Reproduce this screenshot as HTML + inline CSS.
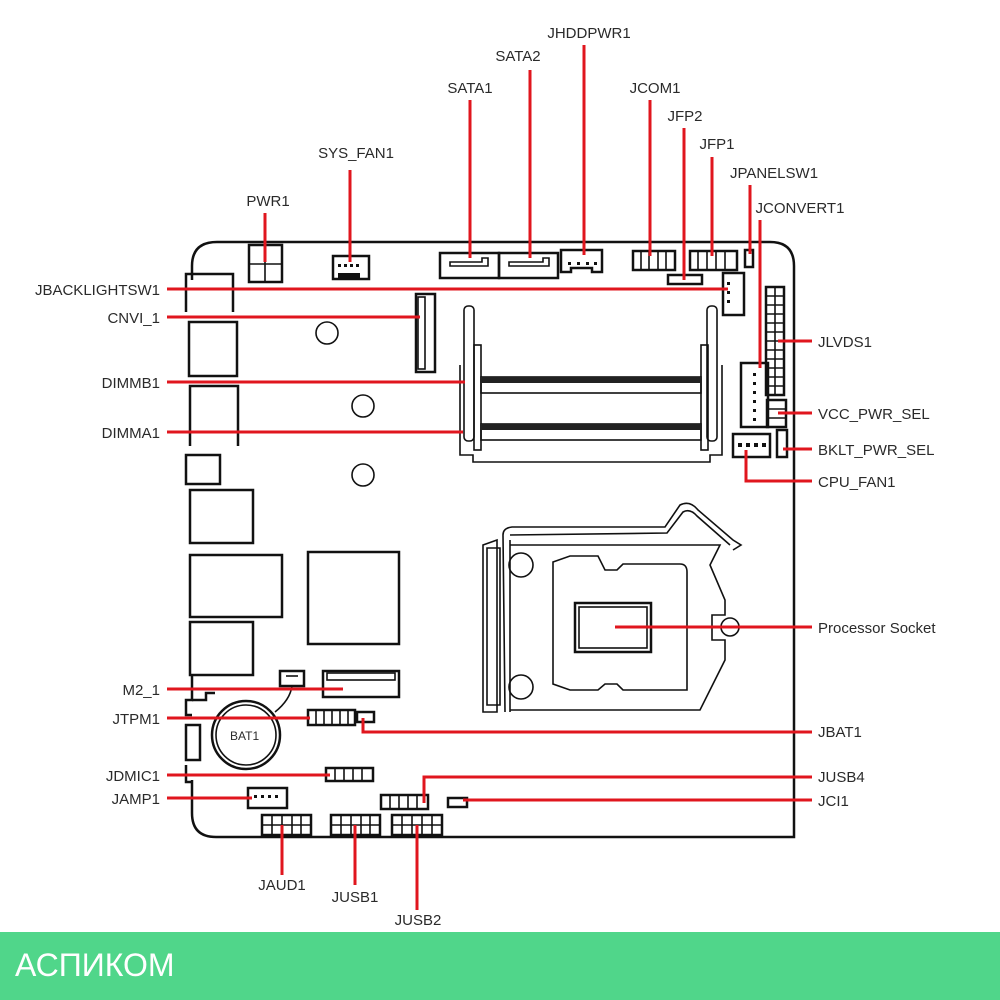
<!DOCTYPE html>
<html><head><meta charset="utf-8"><style>
html,body{margin:0;padding:0;background:#fff;width:1000px;height:1000px;overflow:hidden}
svg{display:block}
text{font-family:"Liberation Sans",sans-serif;font-size:15px;fill:#2a2a2a}
.b{fill:none;stroke:#111;stroke-width:2.5}
.t{fill:none;stroke:#111;stroke-width:1.6}
.r{fill:none;stroke:#e0161e;stroke-width:3}
.p{fill:#111}
</style></head><body>
<svg width="1000" height="1000" viewBox="0 0 1000 1000">
<path class="b" d="M192,280 L192,266 Q192,242 217,242 L770,242 Q794,242 794,266 L794,837 L216,837 Q192,837 192,813 L192,780"/>
<path class="b" d="M186,312 L186,274 L233,274 L233,312"/>
<rect class="b" x="189" y="322" width="48" height="54"/>
<path class="b" d="M190,446 L190,386 L238,386 L238,446"/>
<rect class="b" x="186" y="455" width="34" height="29"/>
<rect class="b" x="190" y="490" width="63" height="53"/>
<rect class="b" x="190" y="555" width="92" height="62"/>
<rect class="b" x="190" y="622" width="63" height="53"/>
<path class="b" d="M192,675 L192,700 L186,700 L186,715 L192,715"/>
<path class="b" d="M192,700 L206,700 L206,693 L215,693"/>
<path class="b" d="M186,725 L186,760 L200,760 L200,725 Z"/>
<path class="b" d="M186,765 L186,782 L192,782"/>
<rect class="b" x="249" y="245" width="33" height="37"/>
<path class="t" d="M265,245 V282 M249,264 H282"/>
<rect class="b" x="333" y="256" width="36" height="23"/>
<rect class="p" x="338" y="273" width="22" height="5"/>
<rect class="p" x="338" y="264" width="3" height="3"/><rect class="p" x="344" y="264" width="3" height="3"/><rect class="p" x="350" y="264" width="3" height="3"/><rect class="p" x="356" y="264" width="3" height="3"/>
<rect class="b" x="440" y="253" width="59" height="25"/>
<path class="t" d="M450,266 H488 V258 H482 V262 H450 Z"/>
<rect class="b" x="499" y="253" width="59" height="25"/>
<path class="t" d="M509,266 H549 V258 H543 V262 H509 Z"/>
<path class="b" d="M561,250 H602 V272 H592 V268 H571 V272 H561 Z"/>
<rect class="p" x="568" y="262" width="3" height="3"/><rect class="p" x="577" y="262" width="3" height="3"/><rect class="p" x="586" y="262" width="3" height="3"/><rect class="p" x="594" y="262" width="3" height="3"/>
<rect class="b" x="633" y="251" width="42" height="19"/>
<path class="t" d="M641,252 V269 M649,252 V269 M658,252 V269 M666,252 V269"/>
<rect class="b" x="690" y="251" width="47" height="19"/>
<path class="t" d="M698,252 V269 M707,252 V269 M716,252 V269 M725,252 V269"/>
<rect class="b" x="745" y="250" width="8" height="17"/>
<rect class="b" x="668" y="275" width="34" height="9"/>
<rect class="b" x="723" y="273" width="21" height="42"/>
<rect class="p" x="727" y="282" width="3" height="3"/><rect class="p" x="727" y="291" width="3" height="3"/><rect class="p" x="727" y="300" width="3" height="3"/>
<rect class="b" x="416" y="294" width="19" height="78"/>
<rect class="t" x="418" y="297" width="7" height="72"/>
<circle class="t" cx="327" cy="333" r="11"/>
<circle class="t" cx="363" cy="406" r="11"/>
<circle class="t" cx="363" cy="475" r="11"/>
<path class="t" d="M460,365 V455 H473 V462 H710 V455 H722 V365"/>
<rect class="t" x="464" y="306" width="10" height="135" rx="4"/>
<rect class="t" x="474" y="345" width="7" height="105"/>
<rect class="t" x="707" y="306" width="10" height="135" rx="4"/>
<rect class="t" x="701" y="345" width="7" height="105"/>
<rect class="t" x="481" y="377" width="220" height="16"/>
<rect x="481" y="377" width="220" height="6" fill="#222"/>
<rect class="t" x="481" y="424" width="220" height="16"/>
<rect x="481" y="424" width="220" height="6" fill="#222"/>
<rect class="b" x="766" y="287" width="18" height="108"/>
<path class="t" d="M767,296 H783 M767,305 H783 M767,314 H783 M767,323 H783 M767,332 H783 M767,341 H783 M767,350 H783 M767,359 H783 M767,368 H783 M767,377 H783 M767,386 H783 M775,288 V394"/>
<rect class="b" x="741" y="363" width="27" height="64"/>
<rect class="p" x="753" y="373" width="3" height="3"/><rect class="p" x="753" y="382" width="3" height="3"/><rect class="p" x="753" y="391" width="3" height="3"/><rect class="p" x="753" y="400" width="3" height="3"/><rect class="p" x="753" y="409" width="3" height="3"/><rect class="p" x="753" y="418" width="3" height="3"/>
<rect class="b" x="767" y="400" width="19" height="27"/>
<path class="t" d="M768,409 H785 M768,418 H785"/>
<rect class="b" x="777" y="430" width="10" height="27"/>
<rect class="b" x="733" y="434" width="37" height="23"/>
<rect class="p" x="738" y="443" width="4" height="4"/><rect class="p" x="746" y="443" width="4" height="4"/><rect class="p" x="754" y="443" width="4" height="4"/><rect class="p" x="762" y="443" width="4" height="4"/>
<rect class="b" x="308" y="552" width="91" height="92"/>
<path class="t" d="M483,545 L497,540 L497,712 L483,712 Z"/>
<path class="t" d="M487,548 H500 V705 H487 Z"/>
<path class="t" d="M503,535 L505,712 M510,540 V712"/>
<path class="t" d="M503,535 Q503,528 512,527 L665,527 L680,505 Q690,500 698,510 L733,540 L741,545 L733,550"/>
<path class="t" d="M510,535 L667,533 L683,512 Q690,508 697,516 L730,545"/>
<circle class="t" cx="521" cy="565" r="12"/>
<circle class="t" cx="521" cy="687" r="12"/>
<path class="t" d="M510,545 H720 L710,565 L725,600 V615 H712 V640 H725 V660 L700,710 H510"/>
<circle class="t" cx="730" cy="627" r="9"/>
<path class="t" d="M553,562 L570,556 L598,556 L605,570 L617,570 L623,564 L680,564 Q687,564 687,572 L687,690 L623,690 L617,684 L605,684 L598,690 L570,690 L553,684 Z"/>
<rect class="b" x="575" y="603" width="76" height="49"/>
<rect class="t" x="579" y="607" width="68" height="41"/>
<rect class="b" x="280" y="671" width="24" height="15"/>
<path class="t" d="M286,676 h12" />
<path class="t" d="M292,686 Q290,700 275,712"/>
<rect class="b" x="323" y="671" width="76" height="26"/>
<rect class="t" x="327" y="673" width="68" height="7"/>
<circle class="b" cx="246" cy="735" r="34"/>
<circle class="t" cx="246" cy="735" r="30"/>
<text x="230" y="740" style="font-size:12px">BAT1</text>
<rect class="b" x="308" y="710" width="47" height="15"/>
<path class="t" d="M316,711 V724 M324,711 V724 M332,711 V724 M340,711 V724 M348,711 V724"/>
<rect class="b" x="357" y="712" width="17" height="10"/>
<rect class="b" x="326" y="768" width="47" height="13"/>
<path class="t" d="M335,769 V780 M344,769 V780 M353,769 V780 M362,769 V780"/>
<rect class="b" x="248" y="788" width="39" height="20"/>
<rect class="p" x="254" y="795" width="3" height="3"/><rect class="p" x="261" y="795" width="3" height="3"/><rect class="p" x="268" y="795" width="3" height="3"/><rect class="p" x="275" y="795" width="3" height="3"/>
<rect class="b" x="381" y="795" width="47" height="14"/>
<path class="t" d="M390,796 V808 M399,796 V808 M408,796 V808 M417,796 V808"/>
<rect class="b" x="448" y="798" width="19" height="9"/>
<rect class="b" x="262" y="815" width="49" height="20"/>
<path class="t" d="M272,816 V834 M282,816 V834 M292,816 V834 M301,816 V834 M263,825 H310"/>
<rect class="b" x="331" y="815" width="49" height="20"/>
<path class="t" d="M341,816 V834 M351,816 V834 M361,816 V834 M370,816 V834 M332,825 H379"/>
<rect class="b" x="392" y="815" width="50" height="20"/>
<path class="t" d="M402,816 V834 M412,816 V834 M422,816 V834 M432,816 V834 M393,825 H441"/>
<path class="r" d="M265,213 V262 M350,170 V262 M470,100 V258 M530,70 V258 M584,45 V255 M650,100 V256 M684,128 V280 M712,157 V256 M750,185 V254 M760,220 V368"/>
<path class="r" d="M167,289 H728 M167,317 H420 M167,382 H465 M167,432 H463"/>
<path class="r" d="M778,341 H812 M778,413 H812 M783,449 H812 M746,450 V481 H812 M615,627 H812"/>
<path class="r" d="M167,689 H343 M167,718 H310 M363,718 V732 H812 M167,775 H330 M167,798 H252 M424,803 V777 H812 M463,800 H812"/>
<path class="r" d="M282,825 V875 M355,825 V885 M417,825 V910"/>
<g text-anchor="middle">
<text x="268" y="206">PWR1</text>
<text x="356" y="158">SYS_FAN1</text>
<text x="470" y="93">SATA1</text>
<text x="518" y="61">SATA2</text>
<text x="589" y="38">JHDDPWR1</text>
<text x="655" y="93">JCOM1</text>
<text x="685" y="121">JFP2</text>
<text x="717" y="149">JFP1</text>
<text x="774" y="178">JPANELSW1</text>
<text x="800" y="213">JCONVERT1</text>
<text x="282" y="890">JAUD1</text>
<text x="355" y="902">JUSB1</text>
<text x="418" y="925">JUSB2</text>
</g>
<g text-anchor="end">
<text x="160" y="295">JBACKLIGHTSW1</text>
<text x="160" y="323">CNVI_1</text>
<text x="160" y="388">DIMMB1</text>
<text x="160" y="438">DIMMA1</text>
<text x="160" y="695">M2_1</text>
<text x="160" y="724">JTPM1</text>
<text x="160" y="781">JDMIC1</text>
<text x="160" y="804">JAMP1</text>
</g>
<text x="818" y="347">JLVDS1</text>
<text x="818" y="419">VCC_PWR_SEL</text>
<text x="818" y="455">BKLT_PWR_SEL</text>
<text x="818" y="487">CPU_FAN1</text>
<text x="818" y="633">Processor Socket</text>
<text x="818" y="737">JBAT1</text>
<text x="818" y="782">JUSB4</text>
<text x="818" y="806">JCI1</text>
<rect x="0" y="932" width="1000" height="68" fill="#50d68a"/>
<text x="15" y="976" style="font-size:32px;fill:#fff">АСПИКОМ</text>
</svg>
</body></html>
